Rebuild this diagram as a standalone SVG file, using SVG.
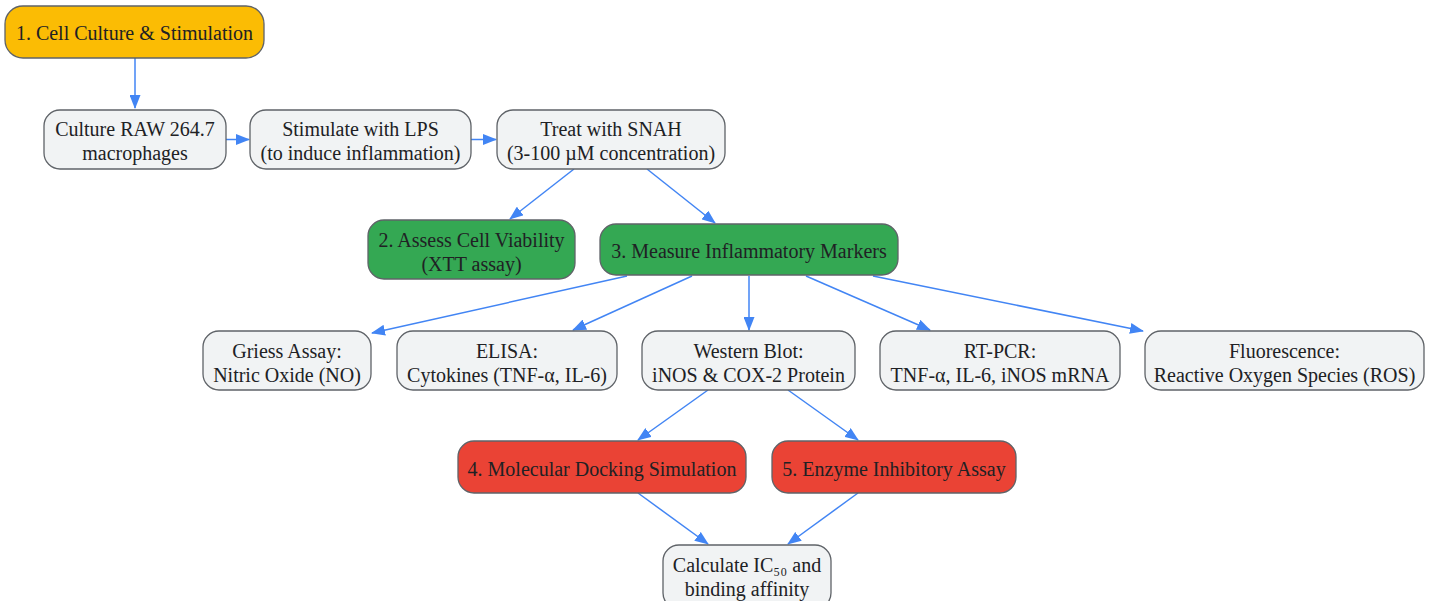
<svg xmlns="http://www.w3.org/2000/svg" width="1434" height="601" viewBox="0 0 1434 601">
<style>
.n rect{stroke:#5f6368;stroke-width:1.3}
.g rect{fill:#f1f3f4}
.y rect{fill:#fbbc04}
.gr rect{fill:#34a853}
.r rect{fill:#ea4335}
text{font-family:"Liberation Serif","Times New Roman",serif;font-size:20px;fill:#202124;text-anchor:middle}
.e path{fill:none;stroke:#4285f4;stroke-width:1.5}
</style>
<defs>
<marker id="a" viewBox="0 0 14 11" refX="13" refY="5.5" markerWidth="14" markerHeight="11" markerUnits="userSpaceOnUse" orient="auto">
<path d="M0,0 L14,5.5 L0,11 z" fill="#4285f4"/>
</marker>
</defs>
<rect width="1434" height="601" fill="#ffffff"/>
<g class="e">
<path d="M135,58 V108" marker-end="url(#a)"/>
<path d="M226,139.5 H249" marker-end="url(#a)"/>
<path d="M471,139.5 H496" marker-end="url(#a)"/>
<path d="M574,169 L510,219" marker-end="url(#a)"/>
<path d="M647,169 L715,223" marker-end="url(#a)"/>
<path d="M627,276 L372,333" marker-end="url(#a)"/>
<path d="M692,276 L573,330" marker-end="url(#a)"/>
<path d="M749,276 V330" marker-end="url(#a)"/>
<path d="M806,276 L930,330" marker-end="url(#a)"/>
<path d="M873,276 L1143,331" marker-end="url(#a)"/>
<path d="M708,390 L638,440" marker-end="url(#a)"/>
<path d="M788,390 L858,440" marker-end="url(#a)"/>
<path d="M638,493 L708,544" marker-end="url(#a)"/>
<path d="M858,493 L788,544" marker-end="url(#a)"/>
</g>
<g id="n1" class="n y"><rect x="5" y="6" width="259" height="52" rx="18"/><text x="134.5" y="40">1. Cell Culture &amp; Stimulation</text></g>
<g id="n2" class="n g"><rect x="44" y="110" width="182" height="59" rx="16"/><text x="135" y="136">Culture RAW 264.7</text><text x="135" y="160">macrophages</text></g>
<g id="n3" class="n g"><rect x="250" y="110" width="221" height="59" rx="16"/><text x="360.5" y="136">Stimulate with LPS</text><text x="360.5" y="160">(to induce inflammation)</text></g>
<g id="n4" class="n g"><rect x="497" y="110" width="228" height="59" rx="16"/><text x="611" y="136">Treat with SNAH</text><text x="611" y="160">(3-100 µM concentration)</text></g>
<g id="n5" class="n gr"><rect x="368" y="220" width="207" height="59" rx="16"/><text x="471.5" y="247">2. Assess Cell Viability</text><text x="471.5" y="271">(XTT assay)</text></g>
<g id="n6" class="n gr"><rect x="600" y="224" width="298" height="51" rx="16"/><text x="749" y="258">3. Measure Inflammatory Markers</text></g>
<g id="n7" class="n g"><rect x="203" y="331" width="168" height="59" rx="16"/><text x="287" y="358">Griess Assay:</text><text x="287" y="382">Nitric Oxide (NO)</text></g>
<g id="n8" class="n g"><rect x="397" y="331" width="220" height="59" rx="16"/><text x="507" y="358">ELISA:</text><text x="507" y="382">Cytokines (TNF-α, IL-6)</text></g>
<g id="n9" class="n g"><rect x="642" y="331" width="213" height="59" rx="16"/><text x="748.5" y="358">Western Blot:</text><text x="748.5" y="382">iNOS &amp; COX-2 Protein</text></g>
<g id="n10" class="n g"><rect x="880" y="331" width="240" height="59" rx="16"/><text x="1000" y="358">RT-PCR:</text><text x="1000" y="382">TNF-α, IL-6, iNOS mRNA</text></g>
<g id="n11" class="n g"><rect x="1145" y="331" width="279" height="59" rx="16"/><text x="1284.5" y="358">Fluorescence:</text><text x="1284.5" y="382">Reactive Oxygen Species (ROS)</text></g>
<g id="n12" class="n r"><rect x="458" y="441" width="288" height="52" rx="16"/><text x="602" y="476">4. Molecular Docking Simulation</text></g>
<g id="n13" class="n r"><rect x="772" y="441" width="244" height="52" rx="16"/><text x="894" y="476">5. Enzyme Inhibitory Assay</text></g>
<g id="n14" class="n g"><rect x="663" y="545" width="168" height="64" rx="16"/><text x="747" y="572">Calculate IC₅₀ and</text><text x="747" y="596">binding affinity</text></g>
</svg>
